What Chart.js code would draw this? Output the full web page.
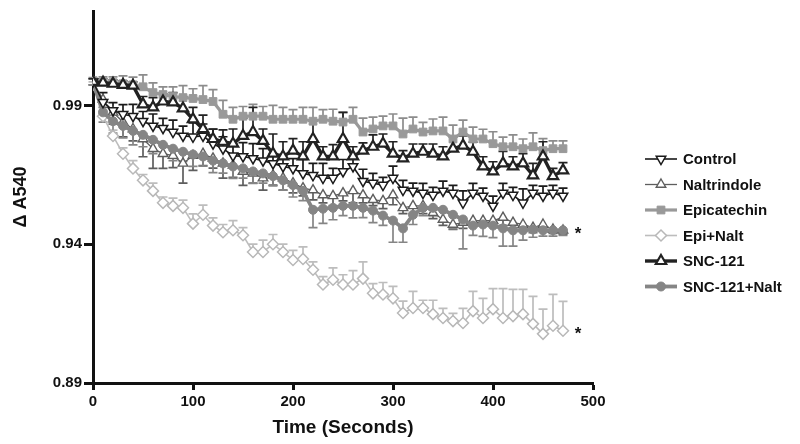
<!DOCTYPE html>
<html>
<head>
<meta charset="utf-8">
<script src="https://cdn.jsdelivr.net/npm/chart.js@4.4.1/dist/chart.umd.min.js"></script>
<style>
  html, body { margin: 0; padding: 0; background: #fff; }
  canvas { display: block; }
</style>
</head>
<body>
<canvas id="chart" width="800" height="444"></canvas>
<script>
// ── Data ───────────────────────────────────────────────────────
const times = [
  0, 10, 20, 30, 40, 50, 60, 70, 80, 90,
  100, 110, 120, 130, 140, 150, 160, 170, 180, 190,
  200, 210, 220, 230, 240, 250, 260, 270, 280, 290,
  300, 310, 320, 330, 340, 350, 360, 370, 380, 390,
  400, 410, 420, 430, 440, 450, 460, 470
];

const controlVals = [
  0.9985, 0.9911, 0.9882, 0.9868, 0.9861, 0.9843, 0.9826, 0.9818, 0.9804, 0.9790,
  0.9787, 0.9790, 0.9762, 0.9744, 0.9719, 0.9716, 0.9709, 0.9701, 0.9691, 0.9680,
  0.9673, 0.9655, 0.9648, 0.9638, 0.9638, 0.9662, 0.9680, 0.9627, 0.9620, 0.9613,
  0.9638, 0.9595, 0.9592, 0.9584, 0.9577, 0.9592, 0.9584, 0.9549, 0.9584, 0.9574,
  0.9538, 0.9584, 0.9577, 0.9549, 0.9584, 0.9574, 0.9584, 0.9574
];
const controlErr = [
  0.0011, 0.0035, 0.0028, 0.0035, 0.0043, 0.0035, 0.0043, 0.0035, 0.0043, 0.0035,
  0.0050, 0.0043, 0.0053, 0.0043, 0.0043, 0.0050, 0.0053, 0.0043, 0.0035, 0.0043,
  0.0035, 0.0050, 0.0043, 0.0053, 0.0035, 0.0043, 0.0035, 0.0043, 0.0035, 0.0028,
  0.0043, 0.0035, 0.0028, 0.0035, 0.0028, 0.0035, 0.0028, 0.0043, 0.0035, 0.0028,
  0.0035, 0.0035, 0.0028, 0.0050, 0.0028, 0.0035, 0.0028, 0.0028
];

const naltVals = [
  0.9985, 0.9921, 0.9875, 0.9840, 0.9815, 0.9779, 0.9744, 0.9726, 0.9719, 0.9691,
  0.9719, 0.9726, 0.9709, 0.9691, 0.9684, 0.9662, 0.9655, 0.9638, 0.9648, 0.9638,
  0.9620, 0.9602, 0.9595, 0.9577, 0.9574, 0.9584, 0.9592, 0.9577, 0.9560, 0.9556,
  0.9577, 0.9531, 0.9538, 0.9538, 0.9513, 0.9489, 0.9471, 0.9478, 0.9485, 0.9485,
  0.9485, 0.9496, 0.9478, 0.9471, 0.9460, 0.9471, 0.9453, 0.9450
];
const naltErr = [
  0.0011, 0.0028, 0.0043, 0.0053, 0.0043, 0.0064, 0.0071, 0.0053, 0.0043, 0.0071,
  0.0053, 0.0043, 0.0035, 0.0053, 0.0043, 0.0050, 0.0035, 0.0043, 0.0035, 0.0043,
  0.0035, 0.0028, 0.0035, 0.0028, 0.0035, 0.0028, 0.0043, 0.0028, 0.0021, 0.0028,
  0.0035, 0.0021, 0.0028, 0.0028, 0.0021, 0.0021, 0.0018, 0.0021, 0.0021, 0.0018,
  0.0021, 0.0028, 0.0018, 0.0018, 0.0018, 0.0021, 0.0014, 0.0014
];

const epiVals = [
  0.9989, 0.9985, 0.9982, 0.9978, 0.9974, 0.9967, 0.9946, 0.9939, 0.9932, 0.9928,
  0.9925, 0.9921, 0.9914, 0.9868, 0.9850, 0.9861, 0.9861, 0.9861, 0.9850, 0.9850,
  0.9850, 0.9850, 0.9843, 0.9850, 0.9843, 0.9840, 0.9850, 0.9804, 0.9815, 0.9826,
  0.9826, 0.9797, 0.9815, 0.9804, 0.9808, 0.9808, 0.9779, 0.9804, 0.9779, 0.9779,
  0.9762, 0.9751, 0.9751, 0.9744, 0.9751, 0.9737, 0.9744, 0.9744
];
const epiErr = [
  0.0011, 0.0018, 0.0021, 0.0028, 0.0028, 0.0043, 0.0035, 0.0028, 0.0035, 0.0043,
  0.0035, 0.0050, 0.0043, 0.0050, 0.0043, 0.0035, 0.0043, 0.0035, 0.0050, 0.0043,
  0.0035, 0.0043, 0.0050, 0.0035, 0.0043, 0.0035, 0.0043, 0.0050, 0.0043, 0.0035,
  0.0043, 0.0057, 0.0043, 0.0035, 0.0043, 0.0050, 0.0050, 0.0043, 0.0043, 0.0035,
  0.0043, 0.0035, 0.0043, 0.0035, 0.0050, 0.0043, 0.0028, 0.0028
];

const epiNaltVals = [
  0.9974, 0.9861, 0.9790, 0.9726, 0.9673, 0.9630, 0.9592, 0.9549, 0.9538, 0.9531,
  0.9474, 0.9506, 0.9467, 0.9443, 0.9450, 0.9432, 0.9372, 0.9372, 0.9400, 0.9372,
  0.9343, 0.9347, 0.9308, 0.9255, 0.9272, 0.9255, 0.9255, 0.9276, 0.9223, 0.9219,
  0.9205, 0.9152, 0.9170, 0.9170, 0.9148, 0.9134, 0.9123, 0.9116, 0.9159, 0.9134,
  0.9166, 0.9134, 0.9141, 0.9148, 0.9113, 0.9077, 0.9106, 0.9088
];
const epiNaltErr = [
  0.0011, 0.0021, 0.0021, 0.0021, 0.0028, 0.0021, 0.0028, 0.0021, 0.0028, 0.0028,
  0.0035, 0.0035, 0.0028, 0.0028, 0.0035, 0.0028, 0.0028, 0.0043, 0.0035, 0.0028,
  0.0035, 0.0043, 0.0028, 0.0028, 0.0043, 0.0035, 0.0050, 0.0060, 0.0035, 0.0043,
  0.0043, 0.0043, 0.0060, 0.0028, 0.0050, 0.0035, 0.0028, 0.0053, 0.0071, 0.0071,
  0.0074, 0.0106, 0.0096, 0.0089, 0.0099, 0.0089, 0.0113, 0.0106
];

const sncVals = [
  0.9985, 0.9982, 0.9978, 0.9974, 0.9971, 0.9904, 0.9893, 0.9914, 0.9911, 0.9889,
  0.9850, 0.9815, 0.9779, 0.9769, 0.9762, 0.9790, 0.9804, 0.9772, 0.9726, 0.9716,
  0.9737, 0.9716, 0.9779, 0.9716, 0.9716, 0.9779, 0.9716, 0.9737, 0.9751, 0.9762,
  0.9726, 0.9709, 0.9726, 0.9733, 0.9726, 0.9716, 0.9744, 0.9755, 0.9733, 0.9680,
  0.9662, 0.9691, 0.9680, 0.9691, 0.9648, 0.9716, 0.9645, 0.9666
];
const sncErr = [
  0.0011, 0.0014, 0.0014, 0.0014, 0.0014, 0.0028, 0.0035, 0.0028, 0.0035, 0.0043,
  0.0043, 0.0050, 0.0035, 0.0043, 0.0053, 0.0064, 0.0089, 0.0043, 0.0071, 0.0053,
  0.0043, 0.0053, 0.0064, 0.0035, 0.0043, 0.0096, 0.0035, 0.0028, 0.0043, 0.0035,
  0.0043, 0.0028, 0.0035, 0.0028, 0.0035, 0.0035, 0.0043, 0.0035, 0.0035, 0.0035,
  0.0035, 0.0043, 0.0035, 0.0035, 0.0043, 0.0053, 0.0028, 0.0028
];

const sncNaltVals = [
  0.9985, 0.9875, 0.9843, 0.9826, 0.9808, 0.9794, 0.9776, 0.9758, 0.9744, 0.9733,
  0.9723, 0.9716, 0.9701, 0.9691, 0.9680, 0.9673, 0.9662, 0.9655, 0.9645, 0.9630,
  0.9613, 0.9592, 0.9524, 0.9528, 0.9531, 0.9538, 0.9538, 0.9531, 0.9521, 0.9503,
  0.9485, 0.9457, 0.9506, 0.9531, 0.9531, 0.9524, 0.9506, 0.9489, 0.9467, 0.9471,
  0.9467, 0.9457, 0.9450, 0.9450, 0.9453, 0.9450, 0.9450, 0.9450
];
const sncNaltErr = [
  0.0011, 0.0035, 0.0043, 0.0043, 0.0050, 0.0043, 0.0050, 0.0035, 0.0043, 0.0035,
  0.0043, 0.0035, 0.0043, 0.0035, 0.0043, 0.0035, 0.0043, 0.0035, 0.0035, 0.0035,
  0.0043, 0.0035, 0.0064, 0.0053, 0.0043, 0.0035, 0.0043, 0.0035, 0.0043, 0.0035,
  0.0078, 0.0050, 0.0035, 0.0028, 0.0028, 0.0043, 0.0050, 0.0106, 0.0035, 0.0043,
  0.0043, 0.0064, 0.0057, 0.0035, 0.0028, 0.0021, 0.0021, 0.0018
];

const yTicks      = [0.89, 0.94, 0.99];
const starSeries  = ['SNC-121+Nalt', 'Epi+Nalt'];   // significance marks at line ends

// ── Helpers ────────────────────────────────────────────────────
const FONT = '"Liberation Sans", Arial, Helvetica, sans-serif';
const pts  = vals => times.map((t, i) => ({ x: t, y: vals[i] }));

function series(label, vals, err, errDir, style) {
  return Object.assign({
    label,
    data: pts(vals),
    err, errDir,
    tension: 0,
    fill: false,
  }, style);
}

// error bars under the lines (GraphPad-style one-sided caps)
const errorBars = {
  id: 'errorBars',
  beforeDatasetsDraw(chart) {
    const { ctx } = chart;
    const y = chart.scales.y;
    chart.data.datasets.forEach((ds, i) => {
      const meta = chart.getDatasetMeta(i);
      ctx.save();
      ctx.strokeStyle = ds.errColor || ds.borderColor;
      ctx.lineWidth = 1.7;
      meta.data.forEach((pt, j) => {
        const end = y.getPixelForValue(ds.data[j].y + ds.errDir * ds.err[j]);
        ctx.beginPath();
        ctx.moveTo(pt.x, pt.y);
        ctx.lineTo(pt.x, end);
        ctx.moveTo(pt.x - 4.5, end);
        ctx.lineTo(pt.x + 4.5, end);
        ctx.stroke();
      });
      ctx.restore();
    });
  }
};

// asterisks after the last point of the significant series
const stars = {
  id: 'stars',
  afterDatasetsDraw(chart) {
    const { ctx, scales: { x, y } } = chart;
    ctx.save();
    ctx.fillStyle = '#111';
    ctx.font = `bold 17px ${FONT}`;
    ctx.textAlign = 'center';
    ctx.textBaseline = 'middle';
    starSeries.forEach(name => {
      const ds = chart.data.datasets.find(d => d.label === name);
      const last = ds.data[ds.data.length - 1];
      ctx.fillText('*', x.getPixelForValue(485), y.getPixelForValue(last.y) + 4);
    });
    ctx.restore();
  }
};

// legend at the right: line + marker + label
const sideLegend = {
  id: 'sideLegend',
  afterDraw(chart) {
    const ctx = chart.ctx;
    const x0 = 645, x1 = 677, top = 159, step = 25.5;
    chart.data.datasets.forEach((ds, i) => {
      const yy = top + i * step;
      ctx.save();
      ctx.strokeStyle = ds.borderColor;
      ctx.lineWidth = ds.borderWidth;
      ctx.beginPath();
      ctx.moveTo(x0, yy);
      ctx.lineTo(x1, yy);
      ctx.stroke();
      ctx.fillStyle = ds.pointBackgroundColor;
      ctx.strokeStyle = ds.pointBorderColor;
      ctx.lineWidth = ds.pointBorderWidth;
      Chart.helpers.drawPoint(ctx, {
        pointStyle: ds.pointStyle,
        rotation: ds.pointRotation || 0,
        radius: ds.pointRadius,
        borderWidth: ds.pointBorderWidth,
      }, (x0 + x1) / 2, yy);
      ctx.fillStyle = '#111';
      ctx.font = `bold 15px ${FONT}`;
      ctx.textBaseline = 'middle';
      ctx.fillText(ds.label, x1 + 6, yy + 1);
      ctx.restore();
    });
  }
};

// ── Chart ──────────────────────────────────────────────────────
const datasets = [
  series('Control', controlVals, controlErr, 1, {
    borderColor: '#1a1a1a', borderWidth: 1.6,
    pointStyle: 'triangle', pointRotation: 180, pointRadius: 5.5,
    pointBackgroundColor: '#fff', pointBorderColor: '#1a1a1a', pointBorderWidth: 1.5,
    order: 1,
  }),
  series('Naltrindole', naltVals, naltErr, -1, {
    borderColor: '#5e5e5e', borderWidth: 1.3,
    pointStyle: 'triangle', pointRadius: 5.5,
    pointBackgroundColor: '#fff', pointBorderColor: '#5e5e5e', pointBorderWidth: 1.4,
    order: 3,
  }),
  series('Epicatechin', epiVals, epiErr, 1, {
    borderColor: '#999', borderWidth: 3.2, errColor: '#8c8c8c',
    pointStyle: 'rect', pointRadius: 5.5,
    pointBackgroundColor: '#999', pointBorderColor: '#999', pointBorderWidth: 1,
    order: 4,
  }),
  series('Epi+Nalt', epiNaltVals, epiNaltErr, 1, {
    borderColor: '#bdbdbd', borderWidth: 1.6,
    pointStyle: 'rectRot', pointRadius: 5.5,
    pointBackgroundColor: '#fff', pointBorderColor: '#b8b8b8', pointBorderWidth: 1.5,
    order: 5,
  }),
  series('SNC-121', sncVals, sncErr, 1, {
    borderColor: '#222', borderWidth: 3.4,
    pointStyle: 'triangle', pointRadius: 6,
    pointBackgroundColor: '#fff', pointBorderColor: '#222', pointBorderWidth: 2.2,
    order: 0,
  }),
  series('SNC-121+Nalt', sncNaltVals, sncNaltErr, -1, {
    borderColor: '#858585', borderWidth: 3.8,
    pointStyle: 'circle', pointRadius: 4.5,
    pointBackgroundColor: '#858585', pointBorderColor: '#858585', pointBorderWidth: 1,
    order: 2,
  }),
];

const axisFont = { family: FONT, size: 15, weight: 'bold' };

new Chart(document.getElementById('chart'), {
  type: 'line',
  data: { datasets },
  plugins: [errorBars, stars, sideLegend],
  options: {
    responsive: false,
    animation: false,
    devicePixelRatio: 1,
    layout: { padding: { left: 0, top: 5, right: 207, bottom: 0 } },
    plugins: {
      legend: { display: false },
      tooltip: { enabled: false },
    },
    scales: {
      x: {
        type: 'linear',
        min: 0, max: 500,
        ticks: { stepSize: 100, color: '#111', font: axisFont, padding: 3 },
        grid: { drawOnChartArea: false, drawTicks: true, tickLength: 7, tickWidth: 3, tickColor: '#111' },
        border: { display: true, color: '#111', width: 3 },
        title: { display: true, text: 'Time (Seconds)', color: '#111',
                 font: { family: FONT, size: 19, weight: 'bold' }, padding: { top: 0, bottom: 5 } },
        afterFit: s => { s.height = 61; },
      },
      y: {
        min: 0.89, max: 1.024,
        afterBuildTicks: s => { s.ticks = yTicks.map(v => ({ value: v })); },
        ticks: { color: '#111', font: axisFont, padding: 2, callback: v => v.toFixed(2) },
        grid: { drawOnChartArea: false, drawTicks: true, tickLength: 9, tickWidth: 3, tickColor: '#111' },
        border: { display: true, color: '#111', width: 3 },
        title: { display: true, text: 'Δ A540', color: '#111',
                 font: { family: FONT, size: 18, weight: 'bold' }, padding: { top: 10, bottom: 0 } },
        afterFit: s => { s.width = 93; },
      },
    },
  },
});
</script>
</body>
</html>
